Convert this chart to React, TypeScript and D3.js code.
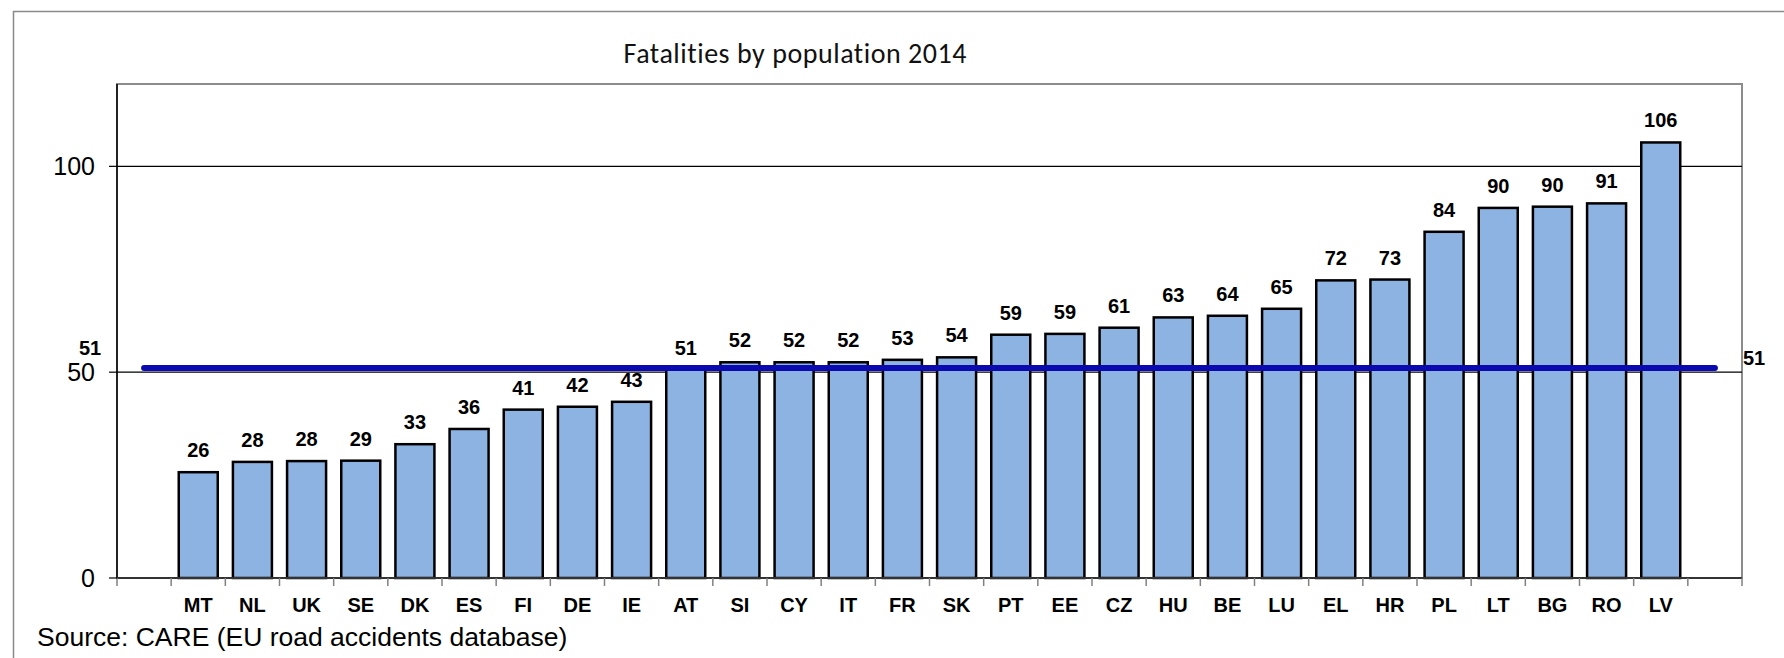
import * as d3 from "d3";
import React from "react";

const WIDTH = 1784;
const HEIGHT = 658;
const MARGIN = { left: 117, right: 42, top: 84, bottom: 80 };

const TITLE = "Fatalities by population 2014";
const SOURCE = "Source: CARE (EU road accidents database)";

// countries sorted by rate, as in the original chart
const countries = [
  "MT", "NL", "UK", "SE", "DK", "ES", "FI", "DE", "IE", "AT",
  "SI", "CY", "IT", "FR", "SK", "PT", "EE", "CZ", "HU", "BE",
  "LU", "EL", "HR", "PL", "LT", "BG", "RO", "LV",
];
// fatalities per million inhabitants (bar heights)
const rates = [
  25.7, 28.2, 28.4, 28.5, 32.5, 36.2, 40.9, 41.6, 42.8, 50.6,
  52.4, 52.4, 52.4, 53.0, 53.6, 59.1, 59.3, 60.8, 63.3, 63.7,
  65.4, 72.3, 72.5, 84.1, 89.9, 90.2, 91.0, 105.8,
];
const euAverage = 51;
const yTicks = [0, 50, 100];
const yMax = 120;

// empty slot at each end, like the Excel original
const slots = ["_start", ...countries, "_end"];

const FONT = "'Liberation Sans', Arial, sans-serif";

export default function App() {
  const plotRight = WIDTH - MARGIN.right;
  const plotBottom = HEIGHT - MARGIN.bottom;

  const xScale = d3
    .scaleBand<string>()
    .domain(slots)
    .range([MARGIN.left, plotRight])
    .padding(0);

  const yScale = d3
    .scaleLinear()
    .domain([0, yMax])
    .range([plotBottom, MARGIN.top]);

  const band = xScale.bandwidth();
  const barWidth = band * 0.72;
  const centre = (key: string) => (xScale(key) ?? 0) + band / 2;

  const avgLine = d3
    .line<string>()
    .x((d) => centre(d))
    .y(() => yScale(euAverage))([slots[0], slots[slots.length - 1]]);

  const bars = countries.map((c, i) => {
    const v = rates[i];
    return (
      <rect
        key={c}
        x={centre(c) - barWidth / 2}
        y={yScale(v)}
        width={barWidth}
        height={plotBottom - yScale(v)}
        fill="#8db3e2"
        stroke="#000"
        strokeWidth={2.5}
      />
    );
  });

  const valueLabels = countries.map((c, i) => (
    <text
      key={c}
      x={centre(c)}
      y={yScale(rates[i]) - 15}
      textAnchor="middle"
      fontFamily={FONT}
      fontWeight="bold"
      fontSize={20}
      fill="#000"
    >
      {Math.round(rates[i])}
    </text>
  ));

  const catLabels = countries.map((c) => (
    <text
      key={c}
      x={centre(c)}
      y={plotBottom + 34}
      textAnchor="middle"
      fontFamily={FONT}
      fontWeight="bold"
      fontSize={20}
      fill="#000"
    >
      {c}
    </text>
  ));

  const xTicks = d3.range(slots.length + 1).map((i) => {
    const x = MARGIN.left + i * band;
    return (
      <line key={i} x1={x} x2={x} y1={plotBottom} y2={plotBottom + 8} stroke="#808080" strokeWidth={1.5} />
    );
  });

  return (
    <svg
      width={WIDTH}
      height={HEIGHT}
      style={{ position: "absolute", left: 0, top: 0, background: "#fff" }}
    >
      {/* outer frame (runs off the right and bottom) */}
      <rect x={13.5} y={11.5} width={WIDTH} height={HEIGHT} fill="#fff" stroke="#8a8a8a" strokeWidth={1.5} />

      <text
        x={795}
        y={63}
        textAnchor="middle"
        fontFamily="Carlito, Calibri, Lato, sans-serif"
        fontSize={28}
        fill="#111"
        textLength={343}
        style={{ fontVariantLigatures: "none" }}
      >
        {TITLE}
      </text>

      {/* plot area border */}
      <rect
        x={MARGIN.left}
        y={MARGIN.top}
        width={plotRight - MARGIN.left}
        height={plotBottom - MARGIN.top}
        fill="#fff"
        stroke="#8c8c8c"
        strokeWidth={2}
      />

      {yTicks.filter((t) => t > 0).map((t) => (
        <line key={t} x1={MARGIN.left} x2={plotRight} y1={yScale(t)} y2={yScale(t)} stroke="#000" strokeWidth={1.2} />
      ))}

      {bars}

      {/* EU average */}
      <path d={avgLine ?? ""} stroke="#0a0ab0" strokeWidth={6} strokeLinecap="round" fill="none" />

      {valueLabels}

      <text x={90} y={355} textAnchor="middle" fontFamily={FONT} fontWeight="bold" fontSize={20}>
        {euAverage}
      </text>
      <text x={plotRight + 1} y={365} textAnchor="start" fontFamily={FONT} fontWeight="bold" fontSize={20}>
        {euAverage}
      </text>

      {/* axes */}
      <line x1={MARGIN.left} x2={MARGIN.left} y1={MARGIN.top} y2={plotBottom} stroke="#000" strokeWidth={1.5} />
      <line x1={MARGIN.left} x2={plotRight} y1={plotBottom} y2={plotBottom} stroke="#333" strokeWidth={2} />
      {xTicks}
      {yTicks.map((t) => (
        <g key={t}>
          <line x1={MARGIN.left - 8} x2={MARGIN.left} y1={yScale(t)} y2={yScale(t)} stroke="#000" strokeWidth={1.2} />
          <text
            x={95}
            y={yScale(t)}
            dy="0.35em"
            textAnchor="end"
            fontFamily={FONT}
            fontSize={25}
            fill="#000"
          >
            {t}
          </text>
        </g>
      ))}

      {catLabels}

      <text x={37} y={646} fontFamily={FONT} fontSize={26.5} fill="#000">
        {SOURCE}
      </text>
    </svg>
  );
}
